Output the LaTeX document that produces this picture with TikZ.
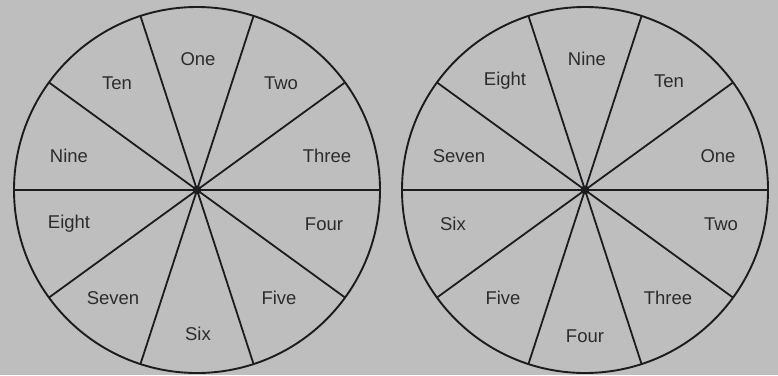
\documentclass[tikz,border=0pt]{standalone}
\usepackage{fontspec}
\setmainfont{Liberation Sans}
\definecolor{bg}{RGB}{190,190,190}
\definecolor{ink}{RGB}{28,28,30}
\begin{document}
\begin{tikzpicture}[x=1pt,y=-1pt,
  wheel/.style={draw=ink,line width=1.9pt},
  spoke/.style={draw=ink,line width=1.8pt},
  lbl/.style={text=ink!90!bg,font=\fontsize{18.5}{18.5}\selectfont,inner sep=0pt}]
\fill[bg] (0,0) rectangle (778,375);
\useasboundingbox (0,0) rectangle (778,375);
% left wheel
\coordinate (L) at (197,190);
\draw[wheel] (L) circle[radius=183];
\foreach \a in {0,36,...,324} \draw[spoke] (L) -- ++(\a:183 and -183);
\fill[ink] (L) circle[radius=4.5];
\node[lbl] (l1) at (198,59) {One};
\node[lbl] (l2) at (281,83) {Two};
\node[lbl] (l3) at (327,156) {Three};
\node[lbl] (l4) at (324,224) {Four};
\node[lbl] (l5) at (279,298) {Five};
\node[lbl] (l6) at (198,334) {Six};
\node[lbl] (l7) at (113,298) {Seven};
\node[lbl] (l8) at (69,224) {Eight};
\node[lbl] (l9) at (69,156) {Nine};
\node[lbl] (l10) at (117,83) {Ten};
% right wheel
\coordinate (R) at (585,190);
\draw[wheel] (R) circle[radius=183];
\foreach \a in {0,36,...,324} \draw[spoke] (R) -- ++(\a:183 and -183);
\fill[ink] (R) circle[radius=4.5];
\node[lbl] (r9) at (587,59) {Nine};
\node[lbl] (r10) at (669,81) {Ten};
\node[lbl] (r1) at (718,156) {One};
\node[lbl] (r2) at (721,224) {Two};
\node[lbl] (r3) at (668,298) {Three};
\node[lbl] (r4) at (585,336) {Four};
\node[lbl] (r5) at (503,298) {Five};
\node[lbl] (r6) at (453,224) {Six};
\node[lbl] (r7) at (459,156) {Seven};
\node[lbl] (r8) at (505,81) {Eight};
\end{tikzpicture}
\end{document}
